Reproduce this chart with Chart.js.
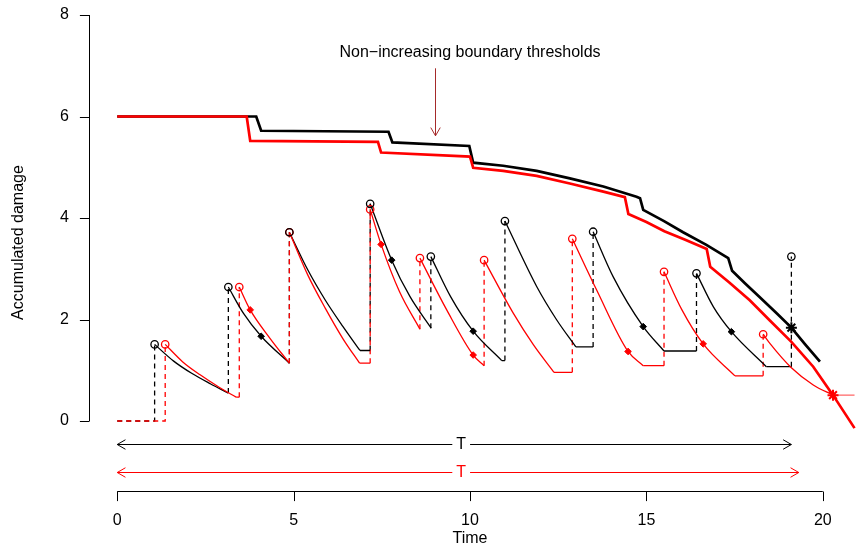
<!DOCTYPE html>
<html>
<head>
<meta charset="utf-8">
<script src="https://cdn.jsdelivr.net/npm/chart.js@4.4.1/dist/chart.umd.min.js"></script>
<style>
  html, body { margin: 0; padding: 0; background: #fff; }
  #wrap { width: 858px; height: 548px; }
</style>
</head>
<body>
<div id="wrap"><canvas id="grafico" width="858" height="548"></canvas></div>
<script>
// === Datos ===
var xTicks = [0, 5, 10, 15, 20];
var yTicks = [0, 2, 4, 6, 8];

// umbrales (no crecientes)
var blackBoundX = [0, 3.94, 4.08, 7.69, 7.80, 9.98, 10.09, 10.94, 11.89, 12.83, 13.78, 14.72, 14.82, 14.91, 15.5, 16.04, 16.7, 17.32, 17.43, 17.8, 18.2, 18.7, 19.11, 19.5, 19.92];
var blackBoundY = [6, 6, 5.72, 5.70, 5.49, 5.42, 5.09, 5.03, 4.93, 4.78, 4.62, 4.42, 4.39, 4.16, 3.94, 3.72, 3.47, 3.21, 2.96, 2.71, 2.45, 2.12, 1.84, 1.51, 1.17];
var redBoundX = [0, 3.67, 3.77, 7.39, 7.48, 10.0, 10.09, 10.94, 11.89, 12.83, 13.78, 14.39, 14.49, 15.0, 15.51, 16.1, 16.71, 16.81, 17.35, 17.93, 18.5, 19.11, 19.73, 20.29, 20.9];
var redBoundY = [6, 6, 5.52, 5.50, 5.29, 5.21, 4.99, 4.93, 4.83, 4.68, 4.52, 4.41, 4.08, 3.92, 3.74, 3.57, 3.39, 3.04, 2.73, 2.38, 1.98, 1.56, 1.07, 0.51, -0.14];

// saltos: instante, nivel antes y despues
var blackJumpT    = [1.06, 3.15, 4.88, 7.17, 8.89, 10.99, 13.49, 16.42, 19.11];
var blackJumpBase = [0, 0.55, 1.14, 1.39, 1.83, 1.19, 1.46, 1.38, 1.07];
var blackJumpTop  = [1.51, 2.64, 3.72, 4.28, 3.24, 3.94, 3.73, 2.91, 3.24];
var redJumpT    = [1.36, 3.46, 4.88, 7.17, 8.58, 10.4, 12.9, 15.5, 18.31];
var redJumpBase = [0, 0.47, 1.14, 1.14, 1.81, 1.09, 0.96, 1.09, 0.89];
var redJumpTop  = [1.51, 2.64, 3.72, 4.17, 3.21, 3.17, 3.59, 2.94, 1.71];

// tramos de recuperacion (null separa tramos)
var blackCurveX = [1.06, 1.6, 2.11, 2.65, 3.15, null, 3.15, 3.58, 4.08, 4.88, null, 4.88, 5.4, 5.9, 6.4, 6.88, null,
  7.17, 7.78, 8.3, 8.9, null, 8.89, 9.45, 10.09, 10.9, null, 10.99, 11.89, 12.45, 13.0, null,
  13.49, 14.06, 14.91, 15.5, null, 16.42, 16.9, 17.41, 18.4];
var blackCurveY = [1.51, 1.18, 0.94, 0.73, 0.55, null, 2.64, 2.12, 1.67, 1.14, null, 3.72, 2.98, 2.38, 1.86, 1.39, null,
  4.28, 3.17, 2.45, 1.83, null, 3.24, 2.45, 1.77, 1.19, null, 3.94, 2.65, 2.0, 1.46, null,
  3.73, 2.84, 1.86, 1.38, null, 2.91, 2.25, 1.76, 1.07];
var redCurveX = [1.36, 1.85, 2.35, 2.9, 3.37, null, 3.46, 3.77, 4.33, 4.88, null, 4.88, 5.4, 5.9, 6.4, 6.87, null,
  7.17, 7.48, 8.0, 8.58, null, 8.58, 9.34, 10.09, 10.4, null, 10.4, 11.23, 11.8, 12.38, null,
  12.9, 13.59, 14.48, 14.91, null, 15.5, 16.0, 16.61, 17.51, null, 18.31, 18.5, 19.11, 19.73, 20.29];
var redCurveY = [1.51, 1.17, 0.91, 0.66, 0.47, null, 2.64, 2.19, 1.63, 1.14, null, 3.72, 2.88, 2.22, 1.62, 1.14, null,
  4.17, 3.48, 2.55, 1.81, null, 3.21, 2.19, 1.30, 1.09, null, 3.17, 2.12, 1.5, 0.96, null,
  3.59, 2.58, 1.37, 1.09, null, 2.94, 2.2, 1.52, 0.89, null, 1.71, 1.53, 1.05, 0.71, 0.51];

// tramos planos
var blackFlatFrom  = [6.88, 10.9, 13.0, 15.5, 18.4];
var blackFlatTo    = [7.17, 10.99, 13.49, 16.42, 19.11];
var blackFlatLevel = [1.39, 1.19, 1.46, 1.38, 1.07];
var redFlatFrom  = [3.37, 6.87, 12.38, 14.91, 17.51];
var redFlatTo    = [3.46, 7.17, 12.9, 15.5, 18.31];
var redFlatLevel = [0.47, 1.14, 0.96, 1.09, 0.89];
var redTailX = [20.29, 20.9];
var redTailY = [0.51, 0.51];

// inspecciones (rombos) y cruces (asteriscos)
var blackMarkX = [4.08, 7.78, 10.09, 14.91, 17.41];
var blackMarkY = [1.67, 3.17, 1.77, 1.86, 1.76];
var redMarkX = [3.77, 7.48, 10.09, 14.48, 16.61];
var redMarkY = [2.19, 3.48, 1.30, 1.37, 1.52];
var blackHitX = [19.11], blackHitY = [1.84];
var redHitX = [20.29], redHitY = [0.51];

// flechas T y anotacion
var tArrowEnd = [19.11, 19.32];
var tArrowY = [-0.45, -1.0];
var tLabelX = 9.75;
var noteText = 'Non\u2212increasing boundary thresholds';
var noteX = 10, noteY = 7.25;
var noteArrowX = 9, noteArrowFrom = 6.95, noteArrowTo = 5.62;

// === Utilidades ===
var FONT = '16px "Liberation Sans", Arial, sans-serif';
var C_RED = '#FF0000';
var C_BLK = '#000000';

function pares(xs, ys) {
  return xs.map(function (x, i) { return { x: x, y: ys[i] }; });
}
function saltos(ts, base, top) {
  var pts = [{ x: 0, y: 0 }];
  ts.forEach(function (t, i) {
    if (i > 0) pts.push({ x: null, y: null });
    pts.push({ x: t, y: base[i] });
    pts.push({ x: t, y: top[i] });
  });
  return pts;
}
function planos(from, to, lvl) {
  var pts = [];
  from.forEach(function (f, i) {
    if (i > 0) pts.push({ x: null, y: null });
    pts.push({ x: f, y: lvl[i] });
    pts.push({ x: to[i], y: lvl[i] });
  });
  return pts;
}
function linea(data, color, width, extra) {
  var d = { data: data, borderColor: color, borderWidth: width, pointRadius: 0, fill: false, spanGaps: false, clip: false };
  for (var k in extra) d[k] = extra[k];
  return d;
}
function puntos(data, color, style, r, bw, fillColor) {
  return { data: data, showLine: false, pointStyle: style, pointRadius: r, borderColor: color,
    pointBorderWidth: bw, backgroundColor: fillColor, pointBackgroundColor: fillColor, clip: false };
}

function flecha(ctx, x0, y0, x1, y1) {
  var len = 9.5, ang = Math.PI / 6;
  var a = Math.atan2(y1 - y0, x1 - x0);
  ctx.moveTo(x1 - len * Math.cos(a - ang), y1 - len * Math.sin(a - ang));
  ctx.lineTo(x1, y1);
  ctx.lineTo(x1 - len * Math.cos(a + ang), y1 - len * Math.sin(a + ang));
}

var ejesR = {
  id: 'ejesR',
  afterDraw: function (chart) {
    var ctx = chart.ctx;
    var xs = chart.scales.x, ys = chart.scales.y;
    var area = chart.chartArea;
    var ax = Math.round(area.bottom) + 0.5;
    var ay = Math.round(area.left) + 0.5;
    var TICK = 9.6;
    ctx.save();
    ctx.lineWidth = 1;
    ctx.strokeStyle = C_BLK;
    ctx.fillStyle = C_BLK;
    ctx.font = FONT;

    // eje x
    ctx.beginPath();
    ctx.moveTo(xs.getPixelForValue(xTicks[0]), ax);
    ctx.lineTo(xs.getPixelForValue(xTicks[xTicks.length - 1]), ax);
    xTicks.forEach(function (t) {
      var px = Math.round(xs.getPixelForValue(t)) + 0.5;
      ctx.moveTo(px, ax);
      ctx.lineTo(px, ax + TICK);
    });
    ctx.stroke();
    ctx.textAlign = 'center';
    ctx.textBaseline = 'middle';
    xTicks.forEach(function (t) { ctx.fillText(String(t), xs.getPixelForValue(t), ax + 29); });
    ctx.fillText('Time', (area.left + area.right) / 2, ax + 47);

    // eje y
    ctx.beginPath();
    ctx.moveTo(ay, ys.getPixelForValue(yTicks[0]));
    ctx.lineTo(ay, ys.getPixelForValue(yTicks[yTicks.length - 1]));
    yTicks.forEach(function (t) {
      var py = Math.round(ys.getPixelForValue(t)) + 0.5;
      ctx.moveTo(ay, py);
      ctx.lineTo(ay - TICK, py);
    });
    ctx.stroke();
    ctx.textAlign = 'right';
    yTicks.forEach(function (t) { ctx.fillText(String(t), ay - 20.5, ys.getPixelForValue(t)); });
    ctx.save();
    ctx.translate(19, (area.top + area.bottom) / 2 - 3);
    ctx.rotate(-Math.PI / 2);
    ctx.textAlign = 'center';
    ctx.fillText('Accumulated damage', 0, 0);
    ctx.restore();

    // anotacion
    ctx.textAlign = 'center';
    ctx.fillText(noteText, xs.getPixelForValue(noteX), ys.getPixelForValue(noteY));
    ctx.strokeStyle = '#A52A2A';
    var nx = Math.round(xs.getPixelForValue(noteArrowX)) + 0.5;
    var n0 = ys.getPixelForValue(noteArrowFrom), n1 = ys.getPixelForValue(noteArrowTo);
    ctx.beginPath();
    ctx.moveTo(nx, n0);
    ctx.lineTo(nx, n1);
    flecha(ctx, nx, n0, nx, n1);
    ctx.stroke();

    // flechas T
    var colores = [C_BLK, C_RED];
    tArrowEnd.forEach(function (end, i) {
      var y = Math.round(ys.getPixelForValue(tArrowY[i])) + 0.5;
      var x0 = xs.getPixelForValue(0), x1 = xs.getPixelForValue(end);
      ctx.strokeStyle = colores[i];
      ctx.fillStyle = colores[i];
      ctx.beginPath();
      ctx.moveTo(x0, y);
      ctx.lineTo(x1, y);
      flecha(ctx, x1, y, x0, y);
      flecha(ctx, x0, y, x1, y);
      ctx.stroke();
      var tx = xs.getPixelForValue(tLabelX);
      var w = ctx.measureText('T').width + 8;
      ctx.fillStyle = '#fff';
      ctx.fillRect(tx - w / 2, y - 8, w, 16);
      ctx.fillStyle = colores[i];
      ctx.fillText('T', tx, y);
    });
    ctx.restore();
  }
};

var datasets = [
  puntos(pares(blackHitX, blackHitY), C_BLK, 'star', 5.5, 2, C_BLK),
  puntos(pares(redHitX, redHitY), C_RED, 'star', 5.5, 2, C_RED),
  puntos(pares(blackJumpT, blackJumpTop), C_BLK, 'circle', 3.7, 1.3, 'rgba(0,0,0,0)'),
  puntos(pares(redJumpT, redJumpTop), C_RED, 'circle', 3.7, 1.3, 'rgba(0,0,0,0)'),
  puntos(pares(blackMarkX, blackMarkY), C_BLK, 'rectRot', 3.3, 1, C_BLK),
  puntos(pares(redMarkX, redMarkY), C_RED, 'rectRot', 3.3, 1, C_RED),
  linea(pares(redBoundX, redBoundY), C_RED, 2.7, { tension: 0 }),
  linea(pares(blackBoundX, blackBoundY), C_BLK, 2.7, { tension: 0 }),
  linea(pares(redCurveX, redCurveY), C_RED, 1.3, { cubicInterpolationMode: 'monotone' }),
  linea(pares(blackCurveX, blackCurveY), C_BLK, 1.3, { cubicInterpolationMode: 'monotone' }),
  linea(planos(redFlatFrom, redFlatTo, redFlatLevel), C_RED, 1.3, {}),
  linea(planos(blackFlatFrom, blackFlatTo, blackFlatLevel), C_BLK, 1.3, {}),
  linea(pares(redTailX, redTailY), '#FF6B6B', 1.3, {}),
  linea(saltos(redJumpT, redJumpBase, redJumpTop), C_RED, 1.3, { borderDash: [5, 4] }),
  linea(saltos(blackJumpT, blackJumpBase, blackJumpTop), C_BLK, 1.3, { borderDash: [5, 4] })
];

var canvas = document.getElementById('grafico');
if (!canvas || typeof Chart === 'undefined') {
  console.error('No se encontro el canvas o Chart.js no esta cargado.');
} else {
  new Chart(canvas, {
    type: 'line',
    data: { datasets: datasets },
    options: {
      responsive: false,
      animation: false,
      events: [],
      layout: { autoPadding: false, padding: { left: 89, right: 7, top: 0, bottom: 57 } },
      scales: {
        x: { type: 'linear', min: -0.8, max: 20.8, display: false },
        y: { type: 'linear', min: -1.379, max: 8.296, display: false }
      },
      plugins: { legend: { display: false }, tooltip: { enabled: false } }
    },
    plugins: [ejesR]
  });
}
</script>
</body>
</html>
